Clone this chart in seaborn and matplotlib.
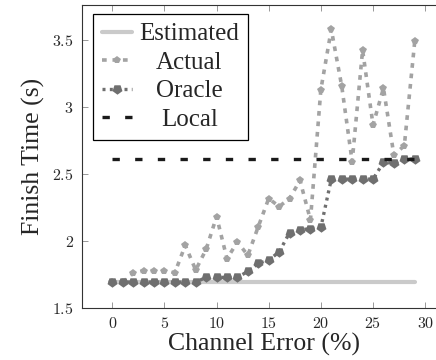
import matplotlib
matplotlib.use("Agg")
import matplotlib.pyplot as plt
import seaborn as sns
from matplotlib.lines import Line2D
from matplotlib.transforms import IdentityTransform

# channel error in percent
channel_error = [0, 1, 2, 3, 4, 5, 6, 7, 8, 9, 10, 11, 12, 13, 14,
                 15, 16, 17, 18, 19, 20, 21, 22, 23, 24, 25, 26, 27, 28, 29]

estimated = [1.69, 1.69, 1.69, 1.69, 1.69, 1.69, 1.69, 1.69, 1.69, 1.69,
             1.69, 1.69, 1.69, 1.69, 1.69, 1.69, 1.69, 1.69, 1.69, 1.69,
             1.69, 1.69, 1.69, 1.69, 1.69, 1.69, 1.69, 1.69, 1.69, 1.69]
actual = [1.69, 1.69, 1.755, 1.775, 1.775, 1.775, 1.76, 1.965, 1.78, 1.935,
          2.18, 1.865, 1.99, 1.89, 2.105, 2.315, 2.255, 2.315, 2.45, 2.155,
          3.13, 3.58, 3.155, 2.59, 3.425, 2.865, 3.14, 2.64, 2.71, 3.49]
oracle = [1.69, 1.69, 1.69, 1.69, 1.69, 1.69, 1.69, 1.69, 1.69, 1.725,
          1.725, 1.725, 1.725, 1.77, 1.83, 1.855, 1.915, 2.06, 2.08, 2.09,
          2.10, 2.46, 2.46, 2.46, 2.46, 2.46, 2.585, 2.58, 2.61, 2.61]
local = [2.61, 2.61, 2.61, 2.61, 2.61, 2.61, 2.61, 2.61, 2.61, 2.61,
         2.61, 2.61, 2.61, 2.61, 2.61, 2.61, 2.61, 2.61, 2.61, 2.61,
         2.61, 2.61, 2.61, 2.61, 2.61, 2.61, 2.61, 2.61, 2.61, 2.61]

series_names = ["Estimated", "Actual", "Oracle", "Local"]
xtick_values = [0, 5, 10, 15, 20, 25, 30]
ytick_values = [1.5, 2, 2.5, 3, 3.5]
ytick_labels = ["1.5", "2", "2.5", "3", "3.5"]

sns.set_style("ticks")
plt.rcParams["font.family"] = ["Liberation Serif", "DejaVu Serif"]
plt.rcParams["mathtext.fontset"] = "cm"

fig = plt.figure(figsize=(4.36, 3.6), dpi=100)
ax = fig.add_axes([82 / 436, 52.5 / 360, 363 / 436, 302.5 / 360])

styles = {
    "Estimated": dict(color="#cacaca", linewidth=3.0, linestyle="-"),
    "Actual": dict(color="#a3a3a3", linewidth=2.6, linestyle=(0, (1.3, 1.6)),
                   marker="p", markersize=6),
    "Oracle": dict(color="#6f6f6f", linewidth=2.4, linestyle=(0, (0.9, 1.3)),
                   marker=(5, 0, 180), markersize=7.5),
    "Local": dict(color="#1a1a1a", linewidth=2.4, linestyle=(0, (2.2, 4.6))),
}
values = {"Estimated": estimated, "Actual": actual, "Oracle": oracle, "Local": local}

for name in series_names:
    sns.lineplot(x=channel_error, y=values[name], ax=ax, markeredgewidth=0, **styles[name])

ax.set_xlim(-2.9, 31.9)
ax.set_ylim(1.5, 3.762)
ax.set_xticks(xtick_values)
ax.set_xticklabels([f"${v}$" for v in xtick_values])
ax.set_yticks(ytick_values)
ax.set_yticklabels([f"${v}$" for v in ytick_labels])
ax.tick_params(direction="in", length=4, width=0.6, color="#888888",
               labelsize=11.5, top=True, right=True, pad=6)
for sp in ax.spines.values():
    sp.set_color("#333333")
    sp.set_linewidth(0.8)

ax.set_xlabel("Channel Error (%)", fontsize=18.5, labelpad=1)
ax.set_ylabel("Finish Time (s)", fontsize=18.5, labelpad=5)

handles = [Line2D([], [], markeredgewidth=0, **styles[n]) for n in series_names]
leg = ax.legend(handles, series_names, loc="upper left",
                bbox_to_anchor=(11 / 363, 1 - 9 / 302.5), borderaxespad=0,
                fontsize=18, frameon=True, fancybox=False, framealpha=1,
                edgecolor="black", handlelength=1.2, handletextpad=0.3,
                labelspacing=0.24, borderpad=0.35, numpoints=1)
leg.get_frame().set_linewidth(0.9)

# center legend labels in their column, like the original
fig.canvas.draw()
renderer = fig.canvas.get_renderer()
texts = leg.get_texts()
boxes = [t.get_window_extent(renderer) for t in texts]
col_center = boxes[0].x0 + max(b.width for b in boxes) / 2
for t, b in zip(texts, boxes):
    t.set_visible(False)
    fig.text(col_center, b.y0, t.get_text(), transform=IdentityTransform(),
             ha="center", va="bottom", fontsize=18, zorder=10)

fig.savefig("out.png", dpi=100)
